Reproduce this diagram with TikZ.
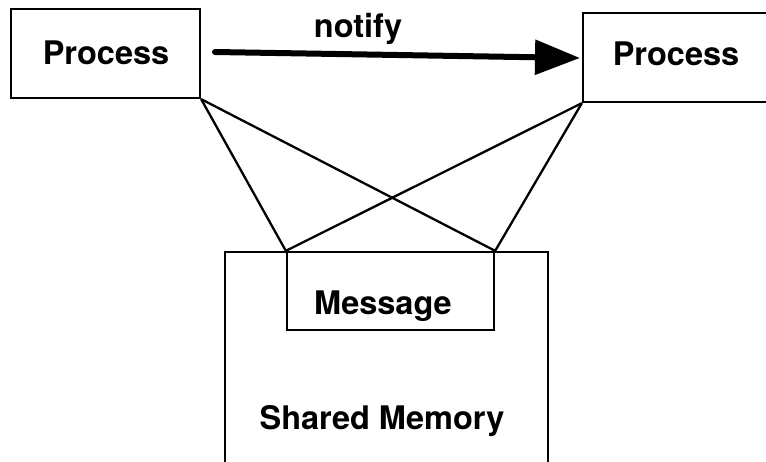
\documentclass[tikz,border=0pt]{standalone}
\usepackage{fontspec}
\setmainfont{TeX Gyre Heros}
\usetikzlibrary{arrows.meta}
\begin{document}
\begin{tikzpicture}[x=1pt,y=-1pt,
  box/.style={draw, line width=2.3pt, inner sep=0pt, minimum width=#1},
  txt/.style={font=\fontsize{32.5}{36}\selectfont\bfseries, inner sep=0pt, text depth=0pt},
  link/.style={line width=2.3pt},
  notifyarrow/.style={line width=6pt, line cap=round,
    -{Triangle[length=45pt,width=34pt]}}]
\useasboundingbox (0,0) rectangle (766,461);
\clip (0,0) rectangle (766,461);
% process boxes
\node[box=189pt, minimum height=89pt] (p1) at (105.5,53.5) {};
\node[box=189pt, minimum height=89pt] (p2) at (677.5,57.5) {};
\node[txt] (p1t) at (106,52.5) {Process};
\node[txt] (p2t) at (676,54) {Process};
% shared memory and the message inside it
\node[box=323pt, minimum height=230pt] (shm) at (386.5,367) {};
\node[box=207pt, minimum height=78pt] (msg) at (390.5,291) {};
\node[txt] (msgt) at (383,302.5) {Message};
\node[txt, anchor=center] (shmt) at (382,417) {Shared Memory};
% notify arrow between the processes
\coordinate (a0) at (215,52);
\coordinate (a1) at (580,58);
\draw[notifyarrow] (a0) -- (a1);
\node[txt, anchor=base] (ntf) at (358,37) {notify};
% each process is linked to both corners of the message
\draw[link] (p1.south east) -- (msg.north west);
\draw[link] (p1.south east) -- (msg.north east);
\draw[link] (p2.south west) -- (msg.north west);
\draw[link] (p2.south west) -- (msg.north east);
\end{tikzpicture}
\end{document}
